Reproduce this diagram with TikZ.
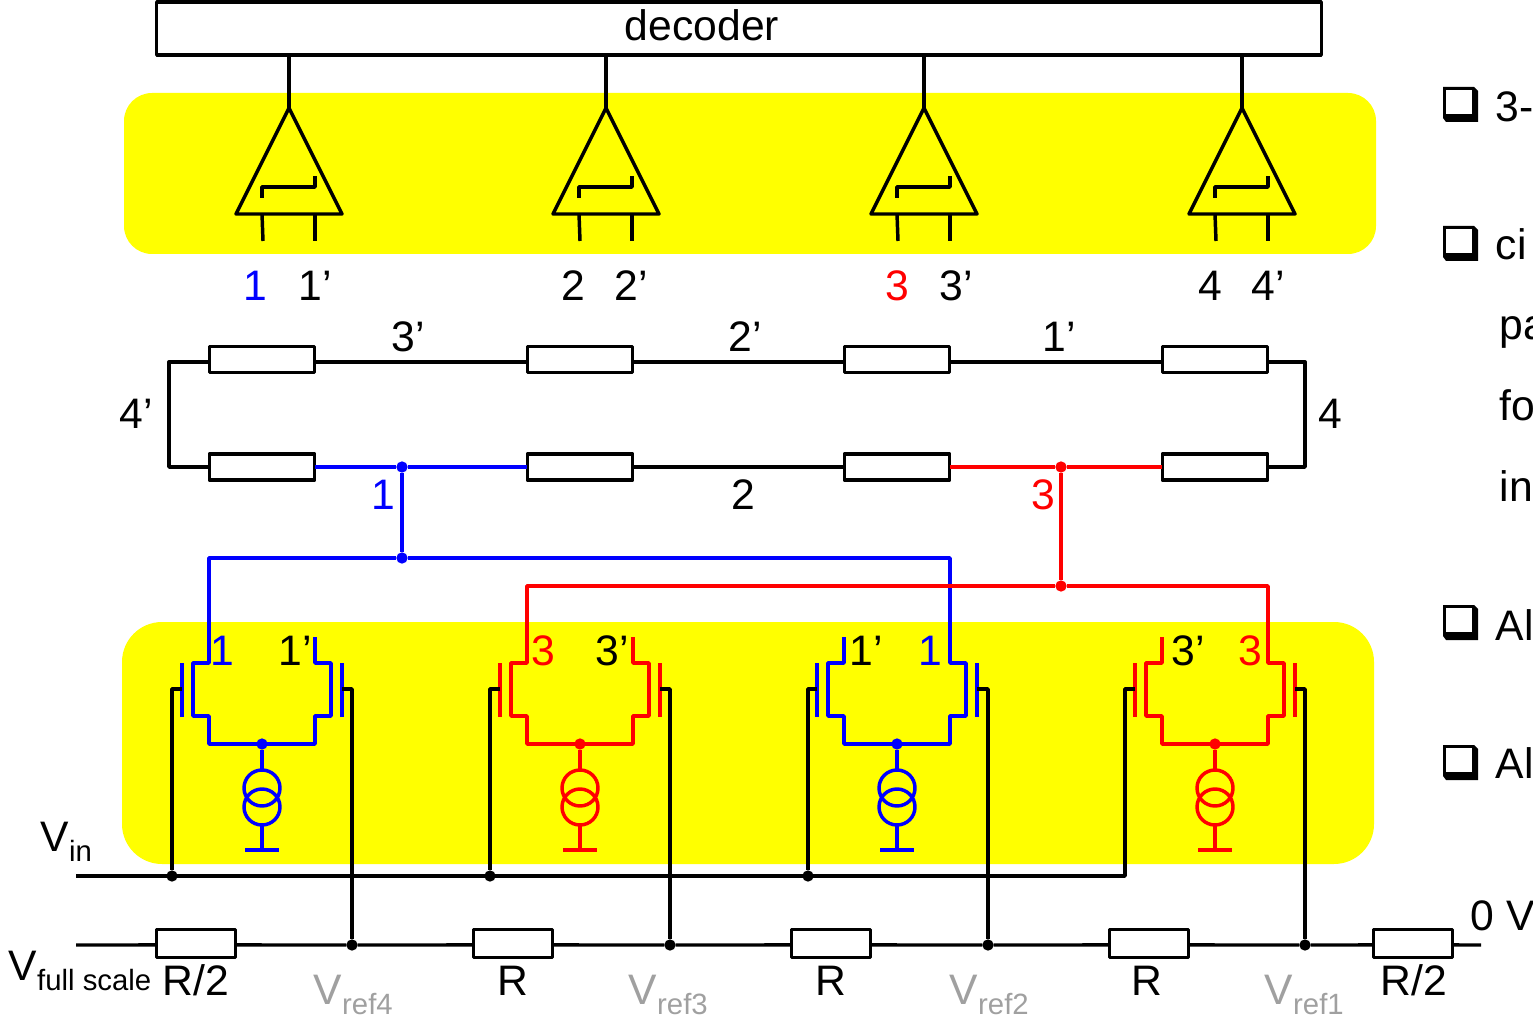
\documentclass[tikz,border=0pt]{standalone}
\usepackage{fontspec}
\usepackage{xcolor}
\setmainfont{Liberation Sans}
\usetikzlibrary{calc}
\definecolor{padyellow}{RGB}{255,255,0}
\definecolor{refgray}{RGB}{160,160,160}
\newcommand{\subtxt}[1]{\raisebox{-7.5pt}{\fontsize{22}{24}\selectfont #1}}

\begin{document}
\begin{tikzpicture}[
    x=0.75pt, y=-0.75pt, line width=2.6pt, line join=round,
    pad/.style={fill=padyellow, draw=none, rounded corners=21pt},
    box/.style={rectangle, draw, fill=white, inner sep=0pt, outer sep=0pt},
    rbig/.style={box, minimum width=79pt, minimum height=19.5pt},
    rsmall/.style={box, minimum width=59.5pt, minimum height=21pt},
    dot/.style={circle, fill, inner sep=0pt, outer sep=0pt, minimum size=8.5pt},
    lab/.style={inner sep=0pt, anchor=base, font=\fontsize{32}{36}\selectfont},
    labl/.style={lab, anchor=base west},
    pics/bulletbox/.style={code={
        \fill (0,0) -- (31,0) -- (35,4) -- (35,35) -- (3,35) -- (0,31) -- cycle;
        \fill[white] (3,3) rectangle (29,27);
    }},
    pics/comparator/.style={code={
        \coordinate (-top) at (0,0);
        \draw (0,0) -- (53,106) -- (-53,106) -- cycle;
        \draw (-27,90) -- (-27,79) -- (26,79) -- (26,68);
        \draw (-27,106) -- (-26,133);
        \draw (26,106) -- (26,133);
    }},
    pics/diffpair/.style={code={
        \coordinate (-dl) at (-53,-107);
        \coordinate (-dr) at (53,-107);
        \coordinate (-gl) at (-80,-55);
        \coordinate (-gr) at (80,-55);
        \draw[#1] (-dl) -- (-53,-81) -- (-69,-81) -- (-69,-28) -- (-53,-28) -- (-53,0)
            -- (53,0) -- (53,-28) -- (69,-28) -- (69,-81) -- (53,-81) -- (-dr);
        \draw[#1] (-80,-81) -- (-80,-27);
        \draw[#1] (80,-81) -- (80,-27);
        \node[dot, #1] (-tail) at (0,0) {};
        \draw[#1] (-tail) -- (0,25);
        \draw[#1] (0,44) circle (13.5pt);
        \draw[#1] (0,63) circle (13.5pt);
        \draw[#1] (0,81) -- (0,106);
        \draw[#1] (-17,106) -- (17,106);
    }}
]
    \clip (0,0) rectangle (1533,1019);

    % yellow pads
    \fill[pad] (124,93) rectangle (1376,254);
    \fill[pad, rounded corners=30pt] (122,622) rectangle (1374,864);

    % decoder and comparators
    \node[box, minimum width=873.5pt, minimum height=39.5pt] (decoder) at (739,28.5) {};
    \node[lab] (declab) at (702,41) {decoder};
    \pic (cpa) at (289,108) {comparator};
    \pic (cpb) at (606,108) {comparator};
    \pic (cpc) at (924,108) {comparator};
    \pic (cpd) at (1242,108) {comparator};
    \draw (cpa-top |- decoder.south) -- (cpa-top);
    \draw (cpb-top |- decoder.south) -- (cpb-top);
    \draw (cpc-top |- decoder.south) -- (cpc-top);
    \draw (cpd-top |- decoder.south) -- (cpd-top);

    \node[lab, blue] (la) at (255,301) {1};
    \node[lab] (lap) at (315,301) {1’};
    \node[lab] (lb) at (573,301) {2};
    \node[lab] (lbp) at (631,301) {2’};
    \node[lab, red] (lc) at (897,301) {3};
    \node[lab] (lcp) at (956,301) {3’};
    \node[lab] (ld) at (1210,301) {4};
    \node[lab] (ldp) at (1268,301) {4’};

    % folded resistor string
    \node[rbig] (rta) at (262,359.5) {};
    \node[rbig] (rtb) at (580,359.5) {};
    \node[rbig] (rtc) at (897,359.5) {};
    \node[rbig] (rtd) at (1215,359.5) {};
    \node[rbig] (rba) at (262,467) {};
    \node[rbig] (rbb) at (580,467) {};
    \node[rbig] (rbc) at (897,467) {};
    \node[rbig] (rbd) at (1215,467) {};
    \coordinate (foldl) at (169,467);
    \coordinate (foldr) at (1305,467);
    \draw ([yshift=-1.9pt]rta.east) -- ([yshift=-1.9pt]rtb.west);
    \draw ([yshift=-1.9pt]rtb.east) -- ([yshift=-1.9pt]rtc.west);
    \draw ([yshift=-1.9pt]rtc.east) -- ([yshift=-1.9pt]rtd.west);
    \draw ([yshift=-1.9pt]rta.west) -| (foldl) -- (rba.west);
    \draw ([yshift=-1.9pt]rtd.east) -| (foldr) -- (rbd.east);
    \draw (rbb.east) -- (rbc.west);

    \node[lab] (st) at (408,352) {3’};
    \node[lab] (su) at (745,352) {2’};
    \node[lab] (sv) at (1059,352) {1’};
    \node[lab] (sw) at (136,428) {4’};
    \node[lab] (sx) at (1330,428) {4};
    \node[lab, blue] (sy) at (383,509) {1};
    \node[lab] (sz) at (743,509) {2};
    \node[lab, red] (sq) at (1043,509) {3};

    % differential pairs
    \pic (dpa) at (262,744) {diffpair=blue};
    \pic (dpb) at (580,744) {diffpair=red};
    \pic (dpc) at (897,744) {diffpair=blue};
    \pic (dpd) at (1215,744) {diffpair=red};

    \node[dot, blue] (bup) at (402,467) {};
    \node[dot, blue] (bjoin) at (402,558) {};
    \node[dot, red] (rup) at (1061,467) {};
    \node[dot, red] (rjoin) at (1061,586) {};
    \draw[blue] (rba.east) -- (bup) -- (rbb.west);
    \draw[blue] (bup) -- (bjoin);
    \draw[blue] (dpa-dl) |- (bjoin);
    \draw[blue] (bjoin) -| (dpc-dr);
    \draw[red] (rbc.east) -- (rup) -- (rbd.west);
    \draw[red] (rup) -- (rjoin);
    \draw[red] (dpb-dl) |- (rjoin);
    \draw[red] (rjoin) -| (dpd-dr);

    \node[lab, blue] (pa) at (222,665) {1};
    \node[lab] (pb) at (295,665) {1’};
    \node[lab, red] (pc) at (543,665) {3};
    \node[lab] (pd) at (612,665) {3’};
    \node[lab] (pe) at (866,665) {1’};
    \node[lab, blue] (pf) at (930,665) {1};
    \node[lab] (pg) at (1188,665) {3’};
    \node[lab, red] (ph) at (1250,665) {3};

    % input line
    \coordinate (vinl) at (76,876);
    \coordinate (vinr) at (1125,876);
    \node[dot] (via) at (172,876) {};
    \node[dot] (vib) at (490,876) {};
    \node[dot] (vic) at (808,876) {};
    \draw (vinl) -- (vinr) |- (dpd-gl);
    \draw (dpa-gl) -| (via);
    \draw (dpb-gl) -| (vib);
    \draw (dpc-gl) -| (vic);
    \node[labl] (vinlab) at (39,851) {V\subtxt{in}};

    % reference ladder
    \coordinate (ladl) at (76,945);
    \coordinate (ladr) at (1481,945);
    \node[rsmall] (rla) at (196,943.5) {};
    \node[rsmall] (rlb) at (513,943.5) {};
    \node[rsmall] (rlc) at (831,943.5) {};
    \node[rsmall] (rld) at (1149,943.5) {};
    \node[rsmall] (rle) at (1413,943.5) {};
    \node[dot] (vra) at (352,945) {};
    \node[dot] (vrb) at (670,945) {};
    \node[dot] (vrc) at (988,945) {};
    \node[dot] (vrd) at (1305,945) {};
    \draw (ladl) -- ([yshift=-1.1pt]rla.west);
    \draw ([yshift=-1.1pt]rla.east) -- (vra) -- ([yshift=-1.1pt]rlb.west);
    \draw ([yshift=-1.1pt]rlb.east) -- (vrb) -- ([yshift=-1.1pt]rlc.west);
    \draw ([yshift=-1.1pt]rlc.east) -- (vrc) -- ([yshift=-1.1pt]rld.west);
    \draw ([yshift=-1.1pt]rld.east) -- (vrd) -- ([yshift=-1.1pt]rle.west);
    \draw ([yshift=-1.1pt]rle.east) -- (ladr);
    \draw (dpa-gr) -| (vra);
    \draw (dpb-gr) -| (vrb);
    \draw (dpc-gr) -| (vrc);
    \draw (dpd-gr) -| (vrd);

    \node[labl] (fslab) at (7,980) {V\subtxt{full scale}};
    \node[lab] (ra) at (196,995) {R/2};
    \node[lab] (rb) at (513,995) {R};
    \node[lab] (rc) at (831,995) {R};
    \node[lab] (rd) at (1147,995) {R};
    \node[lab] (re) at (1414,995) {R/2};
    \node[labl] (zerov) at (1469,930) {0 V};
    \node[labl, refgray] (vfa) at (312,1004) {V\subtxt{ref4}};
    \node[labl, refgray] (vfb) at (627,1004) {V\subtxt{ref3}};
    \node[labl, refgray] (vfc) at (948,1004) {V\subtxt{ref2}};
    \node[labl, refgray] (vfd) at (1263,1004) {V\subtxt{ref1}};

    % bullet list, cut off by the page edge
    \pic at (1443,87) {bulletbox};
    \pic at (1443,226) {bulletbox};
    \pic at (1443,605) {bulletbox};
    \pic at (1443,745) {bulletbox};
    \node[labl] (ta) at (1494,122) {3-};
    \node[labl] (tb) at (1494,260) {ci};
    \node[labl] (tc) at (1498,340) {pa};
    \node[labl] (td) at (1498,420) {fo};
    \node[labl] (te) at (1498,501) {in};
    \node[labl] (tf) at (1494,640) {Al};
    \node[labl] (tg) at (1494,778) {Al};
\end{tikzpicture}
\end{document}
